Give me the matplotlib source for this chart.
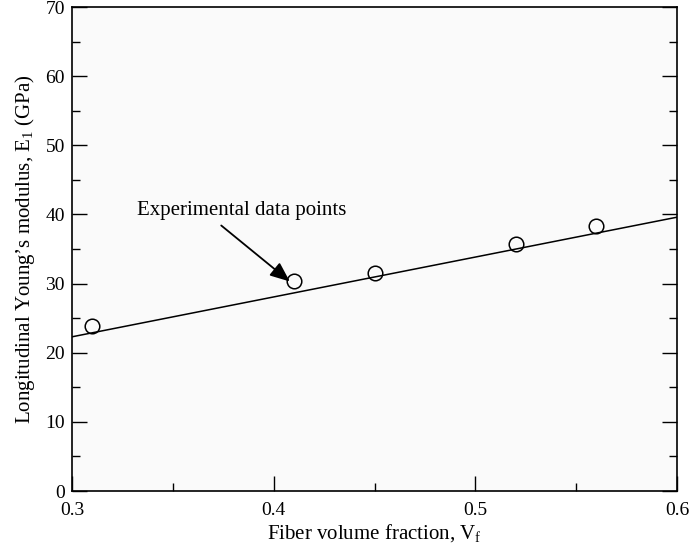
import matplotlib
matplotlib.use('Agg')
import matplotlib.pyplot as plt
from matplotlib.ticker import MultipleLocator

plt.rcParams['font.family'] = ['Liberation Serif', 'DejaVu Serif']
plt.rcParams['mathtext.fontset'] = 'custom'
plt.rcParams['mathtext.rm'] = 'Liberation Serif'

# data points
vf = [0.31, 0.41, 0.45, 0.52, 0.56]
e1 = [23.9, 30.4, 31.5, 35.7, 38.3]

# straight line prediction
fit_x = [0.3, 0.6]
fit_y = [22.3, 39.6]

fig = plt.figure(figsize=(6.89, 5.5), dpi=100)
ax = fig.add_axes([72 / 689, 59 / 550, 605 / 689, 484 / 550])
ax.set_facecolor('#fafafa')

ax.plot(fit_x, fit_y, color='black', lw=1.1)
ax.plot(vf, e1, 'o', ms=10.5, mfc='none', mec='black', mew=1.1)

ax.set_xlim(0.3, 0.6)
ax.set_ylim(0, 70)
ax.xaxis.set_major_locator(MultipleLocator(0.1))
ax.xaxis.set_minor_locator(MultipleLocator(0.05))
ax.yaxis.set_major_locator(MultipleLocator(10))
ax.yaxis.set_minor_locator(MultipleLocator(5))
ax.xaxis.set_major_formatter(plt.FuncFormatter(lambda v, p: f'{v:.1f}'))
ax.tick_params(which='both', direction='in', top=False, right=True, labelsize=14, width=1.0)
ax.tick_params(which='major', length=11)
ax.tick_params(which='minor', length=6)
ax.tick_params(axis='x', which='major', pad=8)
ax.tick_params(axis='y', which='major', pad=5)
for s in ax.spines.values():
    s.set_linewidth(1.2)

ax.set_xlabel('Fiber volume fraction, V$_\\mathregular{f}$', fontsize=15, labelpad=3)
ax.set_ylabel('Longitudinal Young\u2019s modulus, E$_\\mathregular{1}$ (GPa)', fontsize=15, labelpad=6)

ax.text(0.332, 40.6, 'Experimental data points', fontsize=15, va='center', ha='left')
ax.annotate('', xy=(0.408, 30.3), xytext=(0.374, 38.4),
            arrowprops=dict(arrowstyle='-|>,head_length=1.2,head_width=0.5', color='black',
                            lw=1.3, shrinkA=0, shrinkB=0))

fig.savefig('out.png', dpi=100)
